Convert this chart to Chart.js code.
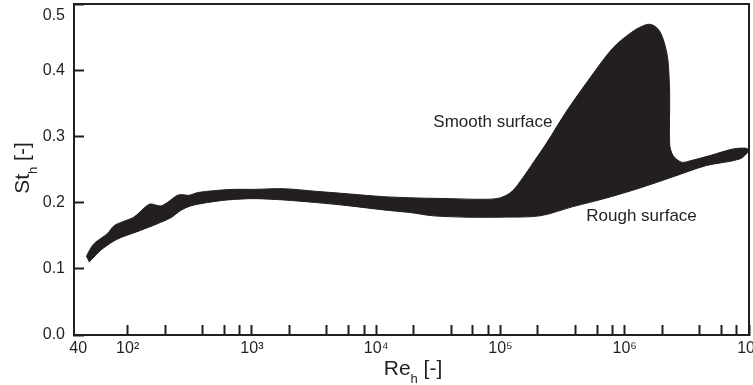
<!DOCTYPE html>
<html>
<head>
<meta charset="utf-8">
<script src="https://cdn.jsdelivr.net/npm/chart.js@4.4.0/dist/chart.umd.min.js"></script>
<style>
  html, body { margin: 0; padding: 0; background: #fff; }
  canvas { display: block; }
</style>
</head>
<body>
<canvas id="stantonChart" width="753" height="385"></canvas>
<script>
// Upper edge of the band (smooth surface), left tip to right tip
const upperRe = [46.5, 48, 53.6, 68.5, 77.6, 88, 112, 140, 153, 184, 208, 251, 275, 311, 363, 494, 716,
  1040, 1790, 3310, 6140, 11400, 21100, 39200, 72600, 98900, 124000, 152000, 183000, 235000,
  340000, 524000, 807000, 1170000, 1500000, 1690000, 1910000, 2100000, 2230000, 2300000, 2300000,
  2450000, 2860000, 3340000, 4840000, 7450000, 9550000, 9950000];
const upperSt = [0.118, 0.124, 0.138, 0.153, 0.165, 0.170, 0.178, 0.194, 0.198, 0.195, 0.200, 0.211, 0.212, 0.211, 0.215, 0.218, 0.220,
  0.220, 0.221, 0.217, 0.213, 0.209, 0.207, 0.206, 0.205, 0.207, 0.217, 0.238, 0.260, 0.290,
  0.338, 0.388, 0.434, 0.459, 0.469, 0.468, 0.459, 0.439, 0.414, 0.363, 0.288,
  0.271, 0.261, 0.263, 0.271, 0.281, 0.282, 0.278];

// Lower edge of the band (rough surface), left to right, tips excluded
const lowerRe = [48.9, 60.7, 77.6, 93.4, 127, 173, 222, 267, 321, 437, 632, 1040, 1790, 3310, 6140,
  11400, 18700, 28800, 53400, 98900, 207600, 384600, 714000, 1322000, 2450000, 4550000, 8440000];
const lowerSt = [0.110, 0.128, 0.142, 0.149, 0.158, 0.168, 0.177, 0.188, 0.195, 0.200, 0.204, 0.206, 0.204, 0.200, 0.195,
  0.189, 0.185, 0.180, 0.178, 0.178, 0.180, 0.194, 0.207, 0.222, 0.239, 0.256, 0.266];

// Axis ticks
const yTicks = [0, 0.1, 0.2, 0.3, 0.4, 0.5];
const xDecades = [1e2, 1e3, 1e4, 1e5, 1e6];
const xMinorFactors = [1, 2, 4, 6, 8];
const xLabelValues = [40, 1e2, 1e3, 1e4, 1e5, 1e6, 1e7];
const xLabelTexts = ['40', '10²', '10³', '10⁴', '10⁵', '10⁶', '10⁷'];

// Text annotations
const notes = [
  { text: 'Smooth surface', re: 86900, st: 0.321 },
  { text: 'Rough surface', re: 1365000, st: 0.180 }
];

const INK = '#231f20';
const FONT = '"Liberation Sans", Arial, Helvetica, sans-serif';

// closed outline: along the top edge, then back along the bottom edge
const outline = upperRe.map((re, i) => ({ x: re, y: upperSt[i] }))
  .concat(lowerRe.map((re, i) => ({ x: re, y: lowerSt[i] })).reverse());

const xTickValues = [40];
xDecades.forEach(d => xMinorFactors.forEach(f => xTickValues.push(d * f)));
xTickValues.push(1e7);

// draws "main" + subscript + "tail" centred on x = 0, baseline 0
function drawSubText(ctx, main, sub, tail, size) {
  const big = size + 'px ' + FONT;
  const small = Math.round(size * 0.62) + 'px ' + FONT;
  ctx.font = big;
  const w1 = ctx.measureText(main).width;
  const w3 = ctx.measureText(tail).width;
  ctx.font = small;
  const w2 = ctx.measureText(sub).width;
  let x = -(w1 + w2 + w3) / 2;
  ctx.textAlign = 'left';
  ctx.textBaseline = 'alphabetic';
  ctx.font = big;
  ctx.fillText(main, x, 0);
  x += w1;
  ctx.font = small;
  ctx.fillText(sub, x, size * 0.38);
  x += w2;
  ctx.font = big;
  ctx.fillText(tail, x, 0);
}

const decorations = {
  id: 'decorations',
  afterDraw(chart) {
    const { ctx, chartArea, scales } = chart;
    ctx.save();
    // top and right frame lines
    ctx.strokeStyle = INK;
    ctx.lineWidth = 2;
    ctx.beginPath();
    ctx.moveTo(chartArea.left, chartArea.top);
    ctx.lineTo(chartArea.right, chartArea.top);
    ctx.lineTo(chartArea.right, chartArea.bottom);
    ctx.stroke();

    ctx.fillStyle = INK;
    // axis titles with subscripts
    ctx.save();
    ctx.translate(413, 375);
    drawSubText(ctx, 'Re', 'h', ' [-]', 21);
    ctx.restore();

    ctx.save();
    ctx.translate(29, 168);
    ctx.rotate(-Math.PI / 2);
    drawSubText(ctx, 'St', 'h', ' [-]', 21);
    ctx.restore();

    // surface notes
    ctx.font = '17px ' + FONT;
    ctx.textAlign = 'center';
    ctx.textBaseline = 'middle';
    notes.forEach(n => {
      ctx.fillText(n.text, scales.x.getPixelForValue(n.re), scales.y.getPixelForValue(n.st));
    });
    ctx.restore();
  }
};

new Chart(document.getElementById('stantonChart'), {
  type: 'line',
  data: {
    datasets: [{
      data: outline,
      borderColor: INK,
      backgroundColor: INK,
      borderWidth: 1,
      pointRadius: 0,
      tension: 0.3,
      fill: 'shape'
    }]
  },
  options: {
    responsive: false,
    animation: false,
    layout: { padding: { top: 4, right: 4, left: 0, bottom: 0 } },
    plugins: { legend: { display: false }, tooltip: { enabled: false } },
    scales: {
      x: {
        type: 'logarithmic',
        min: 37,
        max: 1e7,
        afterBuildTicks: scale => { scale.ticks = xTickValues.map(v => ({ value: v })); },
        afterFit: scale => { scale.height = 50; scale.paddingLeft = 0; scale.paddingRight = 0; },
        ticks: {
          autoSkip: false,
          maxRotation: 0,
          padding: 14,
          color: INK,
          font: { family: FONT, size: 16 },
          callback: value => {
            const i = xLabelValues.indexOf(value);
            return i < 0 ? '' : xLabelTexts[i];
          }
        },
        grid: {
          drawOnChartArea: false,
          tickLength: -10,
          tickWidth: 2,
          color: c => (c.tick && c.tick.value === 40 ? 'rgba(0,0,0,0)' : INK)
        },
        border: { color: INK, width: 2 }
      },
      y: {
        min: 0,
        max: 0.5,
        afterBuildTicks: scale => { scale.ticks = yTicks.map(v => ({ value: v })); },
        afterFit: scale => { scale.width = 74; scale.paddingTop = 0; scale.paddingBottom = 0; },
        ticks: {
          padding: 19,
          color: INK,
          font: { family: FONT, size: 16, lineHeight: 1.5 },
          // the top label sits just inside the frame
          callback: value => (value === 0.5 ? ['', '0.5'] : value.toFixed(1))
        },
        grid: {
          drawOnChartArea: false,
          tickLength: -10,
          tickWidth: 2,
          color: INK
        },
        border: { color: INK, width: 2 }
      }
    }
  },
  plugins: [decorations]
});
</script>
</body>
</html>
